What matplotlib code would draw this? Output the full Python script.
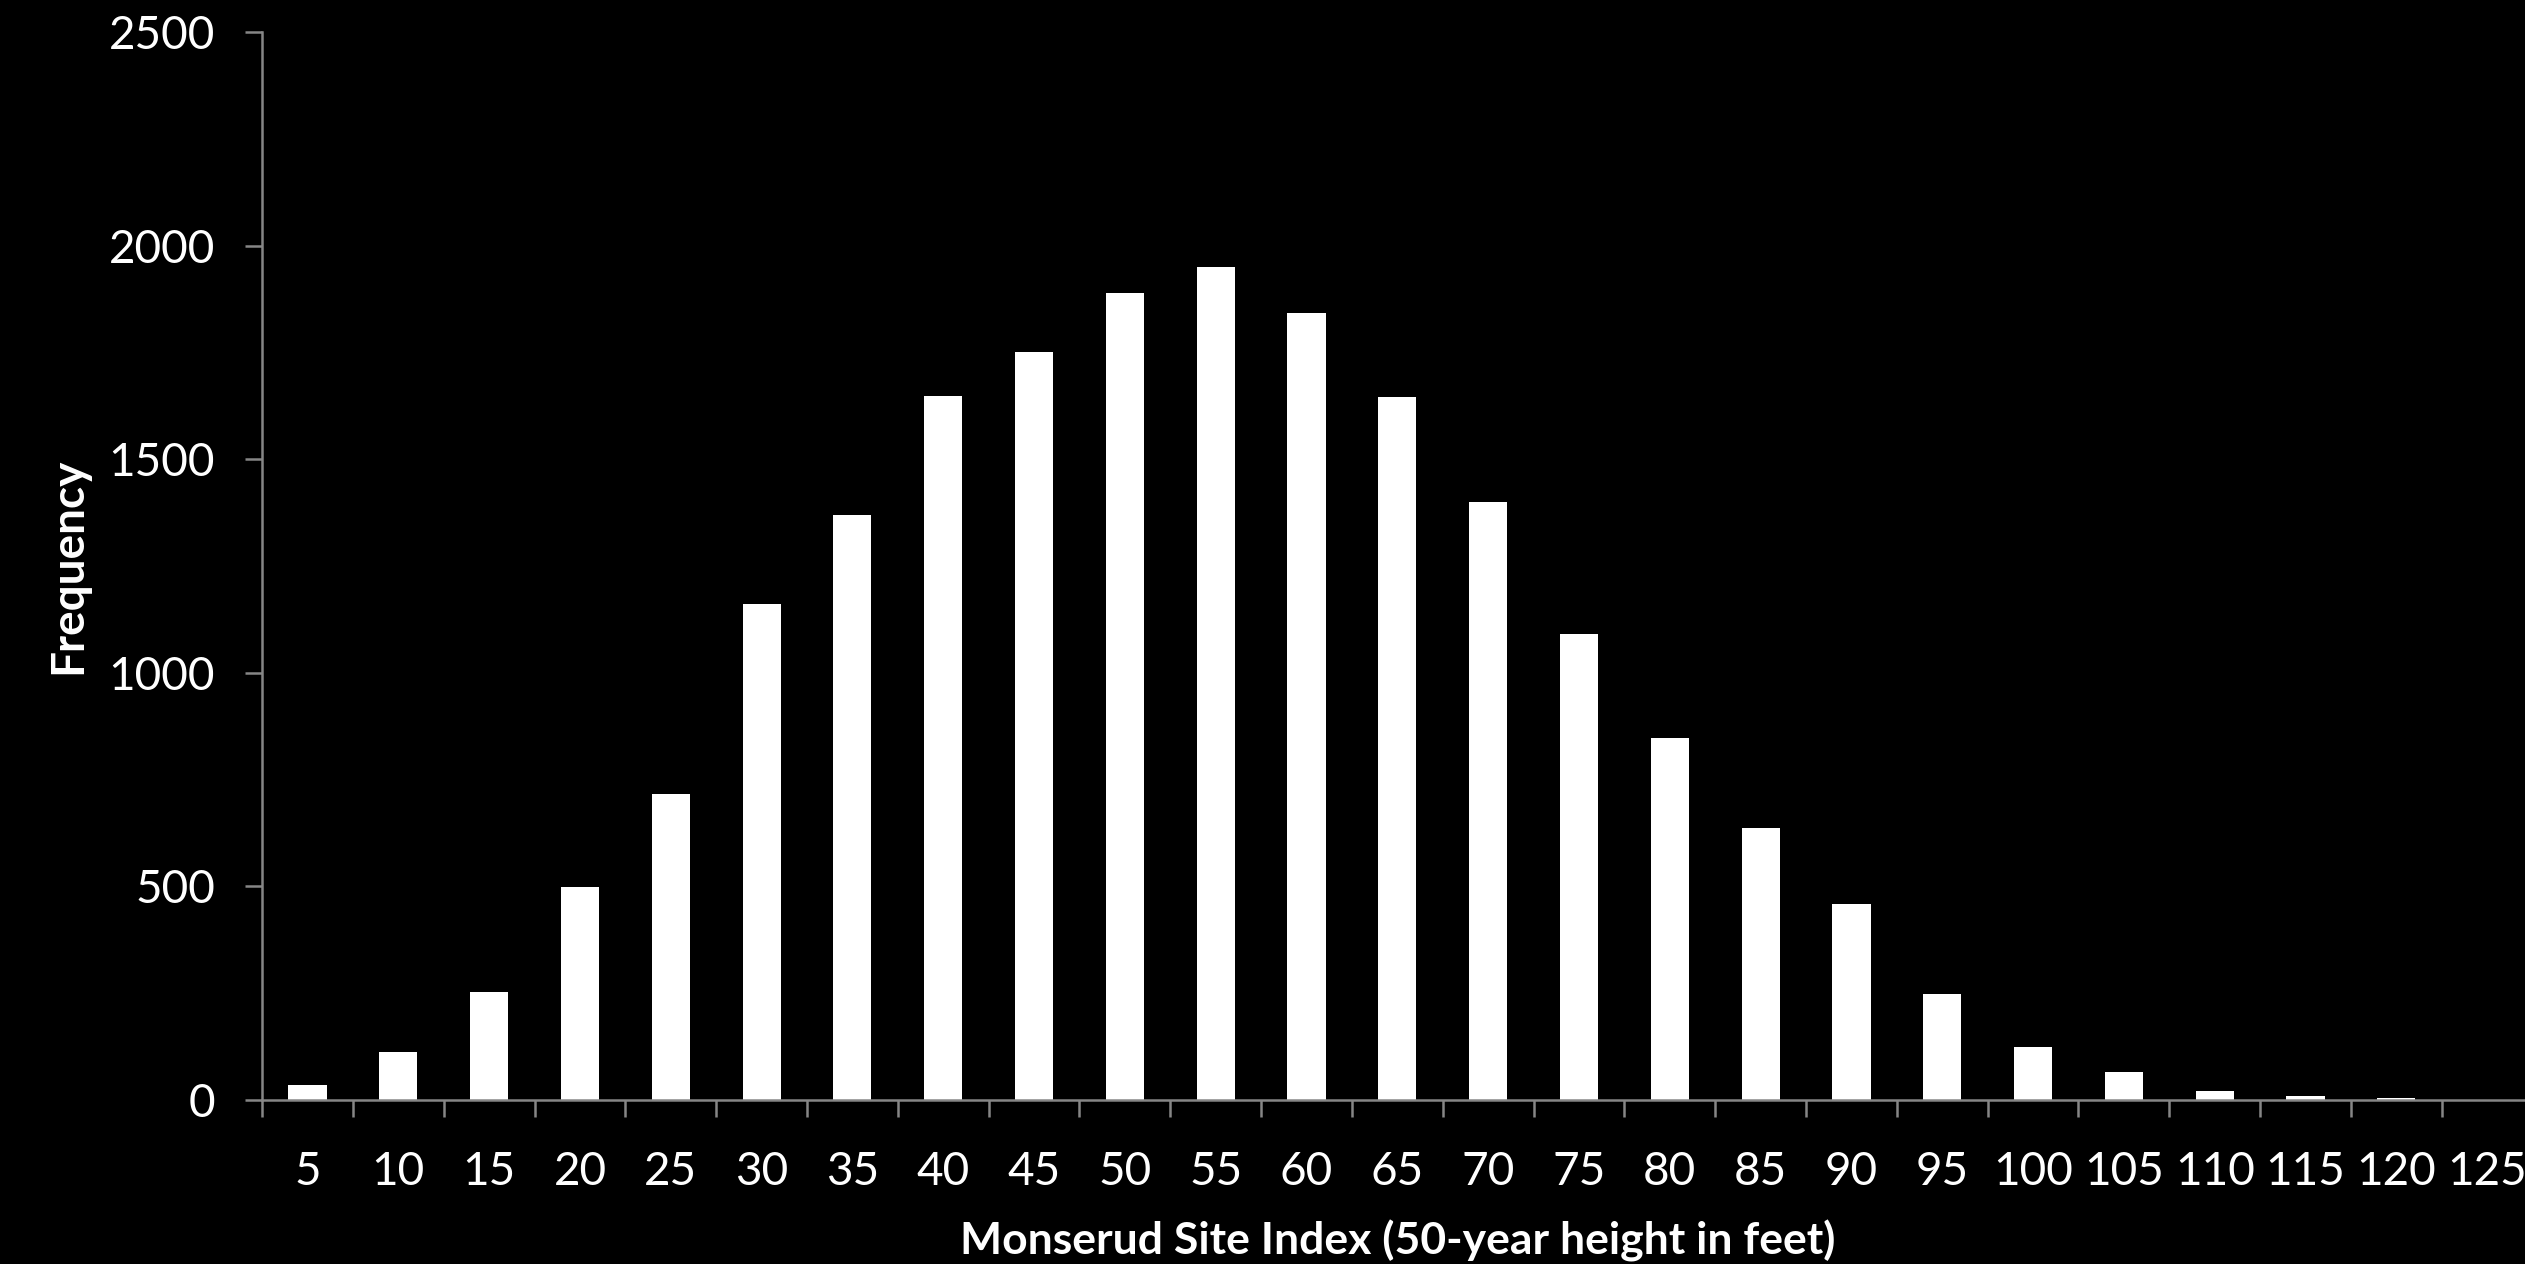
import matplotlib.pyplot as plt
import numpy as np

plt.rcParams['font.family'] = ['Lato', 'DejaVu Sans']

site_index = ['5', '10', '15', '20', '25', '30', '35', '40', '45', '50', '55', '60', '65',
              '70', '75', '80', '85', '90', '95', '100', '105', '110', '115', '120', '125']
frequency = [35, 112, 253, 498, 716, 1161, 1369, 1648, 1750, 1889, 1949, 1842, 1646,
             1399, 1090, 848, 637, 460, 249, 124, 65, 22, 10, 5, 0]

axis_grey = '#868686'

fig = plt.figure(figsize=(25.25, 12.64), dpi=100, facecolor='black')
ax = fig.add_axes([0.1038, 0.1297, 0.8992, 0.845])
ax.set_facecolor('black')

x = np.arange(len(site_index))
ax.bar(x, frequency, width=0.42, color='white', edgecolor='none')

ax.set_xlim(-0.5, len(site_index) - 0.5)
ax.set_ylim(0, 2500)
ax.set_yticks(np.arange(0, 2501, 500))

# category boundaries get the tick marks, labels sit at the centres
ax.set_xticks(np.arange(-0.5, len(site_index), 1.0))
ax.set_xticklabels([])
ax.set_xticks(x, minor=True)
ax.set_xticklabels(site_index, minor=True)
ax.tick_params(axis='x', which='major', length=12, width=1.8, color=axis_grey, direction='out')
ax.tick_params(axis='x', which='minor', length=0, labelsize=33, labelcolor='white', pad=37)
ax.tick_params(axis='y', length=12, width=1.8, color=axis_grey, labelsize=33,
               labelcolor='white', pad=22)

for s in ['top', 'right']:
    ax.spines[s].set_visible(False)
for s in ['left', 'bottom']:
    ax.spines[s].set_color(axis_grey)
    ax.spines[s].set_linewidth(1.8)

ax.set_xlabel('Monserud Site Index (50-year height in feet)', color='white',
              fontsize=32, fontweight='bold', labelpad=19)
ax.set_ylabel('Frequency', color='white', fontsize=33, fontweight='bold', labelpad=14)

fig.savefig('out.png', dpi=100, facecolor='black')
